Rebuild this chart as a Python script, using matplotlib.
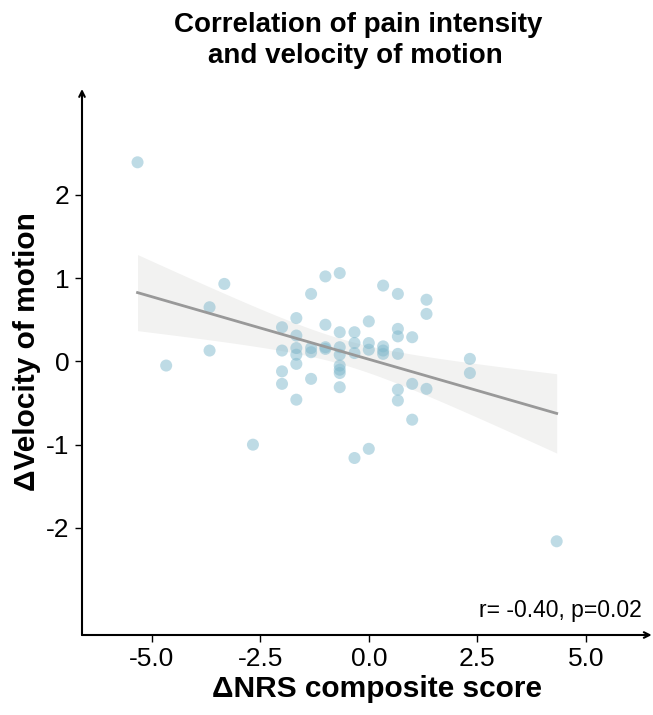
import numpy as np
import matplotlib
matplotlib.use("Agg")
import matplotlib.pyplot as plt

plt.rcParams['font.family'] = ['Liberation Sans', 'DejaVu Sans']
plt.rcParams['axes.unicode_minus'] = False

# data (x = ΔNRS composite score, y = ΔVelocity of motion)
nrs = [-5.33,
       -4.67,
       -3.67, -3.67,
       -3.33,
       -2.67,
       -2.0, -2.0, -2.0, -2.0,
       -1.67, -1.67, -1.67, -1.67, -1.67, -1.67,
       -1.33, -1.33, -1.33, -1.33,
       -1.0, -1.0, -1.0, -1.0,
       -0.67, -0.67, -0.67, -0.67, -0.67, -0.67, -0.67, -0.67,
       -0.33, -0.33, -0.33, -0.33,
       0.0, 0.0, 0.0, 0.0,
       0.33, 0.33, 0.33, 0.33,
       0.67, 0.67, 0.67, 0.67, 0.67, 0.67,
       1.0, 1.0, 1.0,
       1.33, 1.33, 1.33,
       2.33, 2.33,
       4.33]
velocity = [2.39,
            -0.05,
            0.65, 0.13,
            0.93,
            -1.0,
            0.41, 0.13, -0.12, -0.27,
            0.52, 0.31, 0.16, 0.08, -0.03, -0.46,
            0.81, 0.16, 0.11, -0.21,
            1.02, 0.44, 0.17, 0.15,
            1.06, 0.35, 0.17, 0.08, -0.05, -0.10, -0.14, -0.31,
            0.35, 0.22, 0.10, -1.16,
            0.48, 0.22, 0.14, -1.05,
            0.91, 0.18, 0.13, 0.09,
            0.81, 0.39, 0.30, 0.09, -0.34, -0.47,
            0.29, -0.27, -0.70,
            0.74, 0.57, -0.33,
            0.03, -0.14,
            -2.16]
xticks = [-5.0, -2.5, 0.0, 2.5, 5.0]
yticks = [-2, -1, 0, 1, 2]
annotation = "r= -0.40, p=0.02"
title_lines = ["Correlation of pain intensity", "and velocity of motion"]

x = np.array(nrs)
y = np.array(velocity)

W, H = 653, 715
fig = plt.figure(figsize=(W / 100, H / 100), dpi=100)
ax = fig.add_axes([82 / W, 1 - 635 / H, (651.7 - 82) / W, (635 - 89) / H])

# regression + 95% CI
n = len(x)
b, a = np.polyfit(x, y, 1)
xs = np.linspace(x.min(), x.max(), 100)
ys = a + b * xs
resid = y - (a + b * x)
s = np.sqrt(np.sum(resid**2) / (n - 2))
sxx = np.sum((x - x.mean())**2)
tval = 2.0017
se = s * np.sqrt(1.0 / n + (xs - x.mean())**2 / sxx)
ax.fill_between(xs, ys - tval * se, ys + tval * se, color='#f2f2f1', lw=0, zorder=1)

ax.scatter(x, y, s=75, color='#7fb8cc', alpha=0.5, edgecolors='none', zorder=2)
ax.plot(xs, ys, color='#999999', lw=2, zorder=3)

ax.set_xlim(-6.61, 6.52)
ax.set_ylim(-3.285, 3.27)
ax.set_xticks(xticks)
ax.set_xticklabels([f"{t:.1f}" for t in xticks])
ax.set_yticks(yticks)
ax.set_yticklabels([str(t) for t in yticks])
ax.tick_params(labelsize=19, length=5, width=1, colors='black', pad=4)

for sp in ax.spines.values():
    sp.set_visible(False)
ax.annotate('', xy=(1.0, 0), xytext=(0, 0), xycoords='axes fraction',
            arrowprops=dict(arrowstyle='->', lw=1.5, color='black', shrinkA=0, shrinkB=0))
ax.annotate('', xy=(0, 1.0), xytext=(0, 0), xycoords='axes fraction',
            arrowprops=dict(arrowstyle='->', lw=1.5, color='black', shrinkA=0, shrinkB=0))

fig.text(376.5 / W, 1 - 697 / H, "ΔNRS composite score", fontsize=21.5,
         fontweight='bold', ha='center', va='baseline')
fig.text(13 / W, 1 - 351.5 / H, "ΔVelocity of motion", fontsize=21.5,
         fontweight='bold', ha='left', va='center', rotation=90)
ax.text(0.983, (635 - 616.7) / 546, annotation, transform=ax.transAxes,
        ha='right', va='baseline', fontsize=16.5)

fig.text(358 / W, 1 - 32 / H, title_lines[0], ha='center', va='baseline',
         fontsize=20, fontweight='bold')
fig.text(355 / W, 1 - 63 / H, title_lines[1], ha='center', va='baseline',
         fontsize=20, fontweight='bold')

fig.savefig("out.png", dpi=100)
